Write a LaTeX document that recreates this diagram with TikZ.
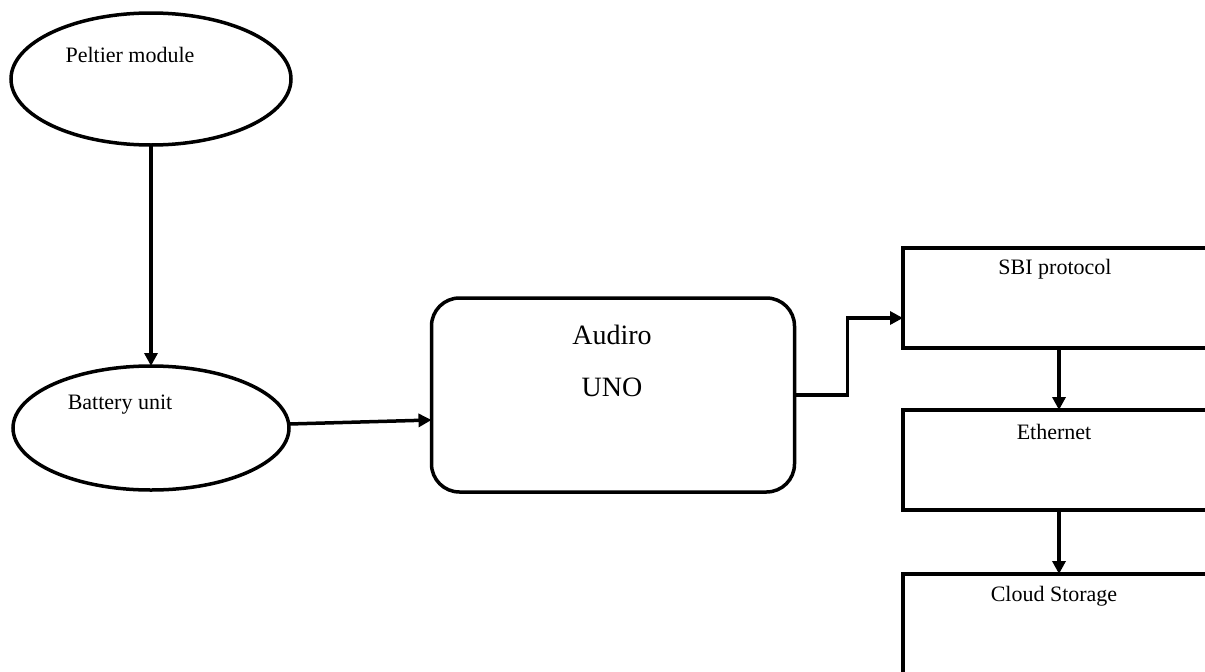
\documentclass[tikz,border=0pt]{standalone}
\usepackage{fontspec}
\setmainfont{Liberation Serif}
\usetikzlibrary{shapes.geometric,arrows.meta,positioning,calc}

\tikzset{
  unit/.style={draw=black, ellipse, line width=3.5pt, inner sep=0pt, outer sep=0pt},
  block/.style={draw=black, rectangle, line width=4.5pt, inner sep=0pt, outer sep=0pt,
    minimum width=312pt, minimum height=100pt},
  ctrl/.style={draw=black, rectangle, rounded corners=28pt, line width=3.5pt, inner sep=0pt,
    outer sep=0pt, minimum width=363pt, minimum height=194pt},
  lbl/.style={font=\fontsize{22}{26}\selectfont, inner sep=0pt},
  biglbl/.style={font=\fontsize{28}{33}\selectfont, inner sep=0pt},
  flow/.style={line width=3.5pt, -{Triangle[length=13pt,width=13pt]}}
}

\begin{document}
\begin{tikzpicture}[x=1pt,y=-1pt]

\useasboundingbox (0,0) rectangle (1205,672);
\clip (0,0) rectangle (1205,672);
\fill[white] (0,0) rectangle (1205,672);

% power side
\node[unit, minimum width=280pt, minimum height=132pt] (pelt) at (151,79) {};
\node[lbl] (pelttxt) at (130,55) {Peltier module};
\node[unit, minimum width=276pt, minimum height=124pt] (batt) at (151,428) {};
\node[lbl] (batttxt) at (120,405) {Battery unit};

% controller
\node[ctrl] (audiro) at (613,395) {};
\node[biglbl] (audirotxt) at (612,335) {Audiro};
\node[biglbl] (unotxt) at (612,387) {UNO};

% data path
\node[block] (sbi) at (1059,298) {};
\node[lbl] (sbitxt) at (1055,269) {SBI protocol};
\node[block] (eth) at (1059,460) {};
\node[lbl] (ethtxt) at (1054,432) {Ethernet};
\node[block, minimum height=130pt] (cloud) at (1059,639) {};
\node[lbl] (cloudtxt) at (1054,596) {Cloud Storage};

\draw[flow] (pelt.south) -- (batt.north);
\draw[flow] ($(batt.east)+(0,-4)$) -- ($(audiro.west)+(0,25)$);
\draw[flow] (audiro.east) -- ++(53,0) |- ($(sbi.west)+(0,20)$);
\draw[flow] (sbi.south) -- (eth.north);
\draw[flow] (eth.south) -- (cloud.north);

\end{tikzpicture}
\end{document}
